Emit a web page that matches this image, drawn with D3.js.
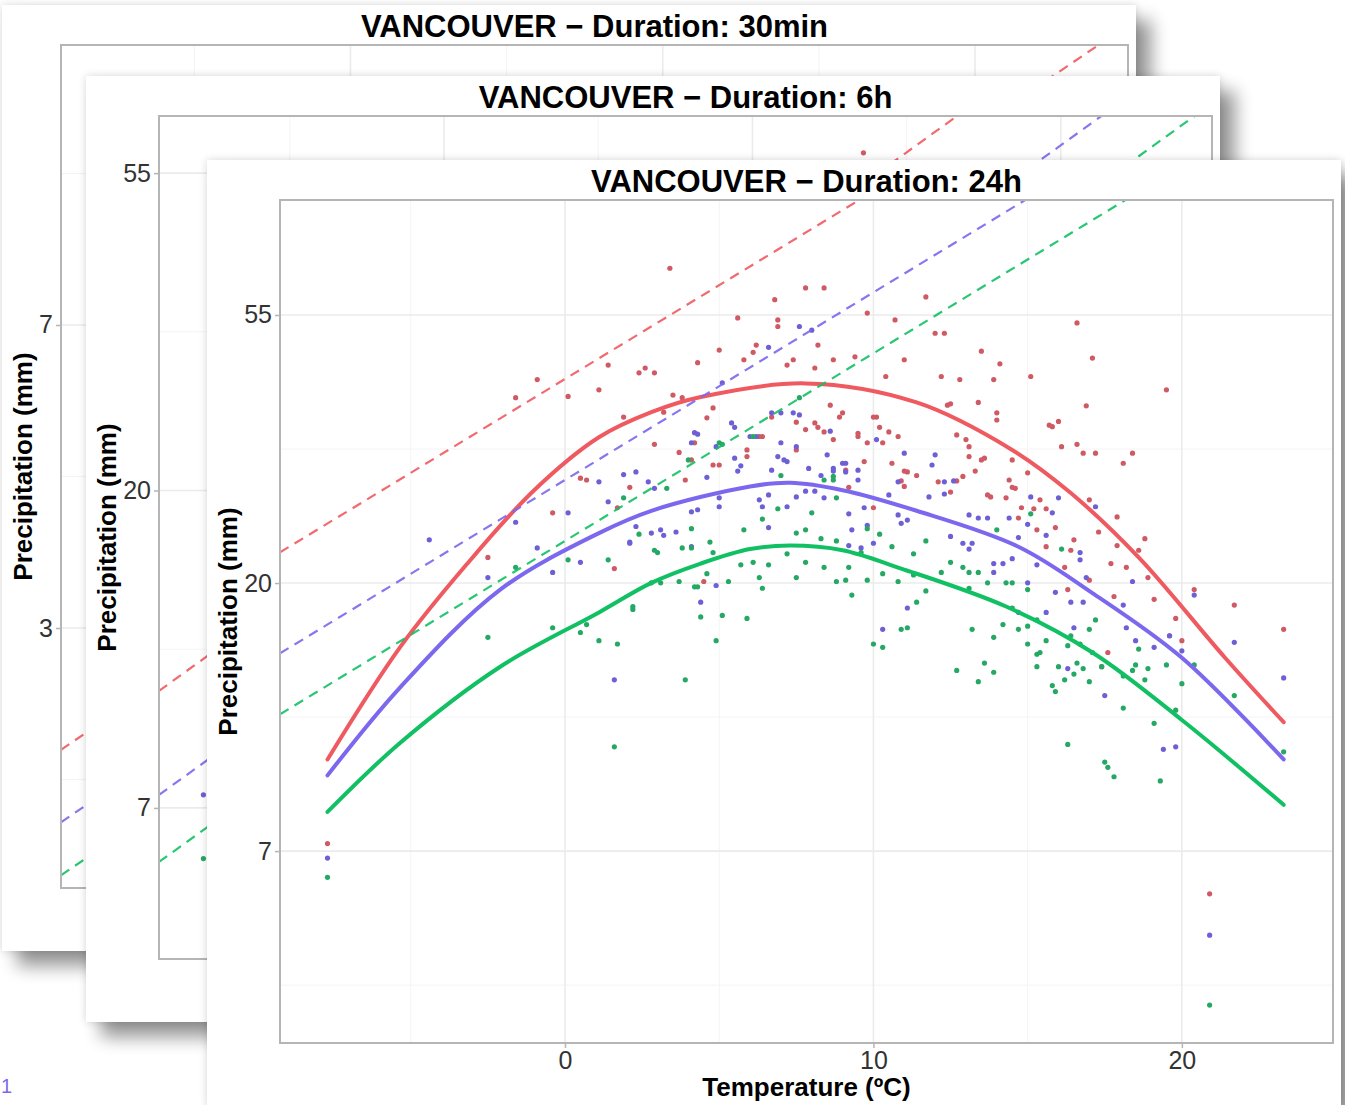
<!DOCTYPE html>
<html>
<head>
<meta charset="utf-8">
<script src="https://cdn.jsdelivr.net/npm/d3@7"></script>
<style>
  body { margin: 0; background: #fff; }
  svg { display: block; }
  text { font-family: "Liberation Sans", Arial, sans-serif; }
</style>
</head>
<body>
<div id="chart"></div>
<script>
// ---- data (temperature in degC, precipitation in mm) ----
var redPts = [[-7.7,7.6],[20.9,6.3],[23.3,16.9],[21.7,18.5],[20.4,19.6],[19.5,41.3],[17.1,46.5],[16.6,53.0],[3.4,65.0],[-1.6,40.1],[-0.9,42.9],[0.1,40.3],[1.1,41.3],[1.4,45.3],[2.4,44.0],[2.6,44.8],[2.9,44.0],[1.9,37.3],[2.9,33.7],[3.7,32.7],[3.5,40.5],[3.8,40.1],[4.3,45.7],[0.5,29.7],[0.7,29.5],[-0.4,26.1],[-2.5,22.1],[1.6,21.2],[1.7,26.6],[2.1,28.7],[3.9,29.5],[4.1,31.8],[4.8,31.2],[5.0,31.2],[4.6,37.2],[4.8,38.6],[4.5,20.2],[5.6,54.0],[6.9,53.6],[6.9,52.3],[6.2,48.8],[5.0,47.9],[6.1,47.5],[5.8,46.2],[7.4,46.2],[6.8,57.8],[7.8,60.4],[8.4,60.4],[9.8,55.0],[10.7,53.6],[11.7,58.4],[8.2,48.8],[8.7,46.2],[9.4,46.7],[11.0,46.2],[12.0,51.0],[12.3,51.0],[7.2,45.3],[8.1,44.8],[10.4,43.4],[12.2,43.4],[12.8,42.9],[13.9,42.9],[15.1,43.4],[13.5,47.7],[14.1,45.5],[12.4,39.0],[13.4,39.4],[14.0,37.9],[14.0,36.9],[12.7,34.9],[13.0,34.3],[15.8,36.0],[16.0,36.7],[16.6,33.7],[16.8,32.6],[17.2,32.6],[18.4,32.6],[18.1,31.4],[16.1,33.4],[14.5,31.8],[15.0,30.3],[14.5,28.7],[13.1,32.2],[13.6,32.0],[8.9,37.3],[10.1,37.3],[10.2,35.9],[9.5,34.7],[9.8,33.9],[8.2,35.9],[10.8,34.7],[6.7,37.3],[6.3,34.7],[4.2,33.9],[5.9,32.2],[3.2,38.0],[11.0,30.5],[11.4,30.0],[10.6,31.4],[12.1,29.3],[12.7,29.4],[13.3,30.5],[13.8,27.7],[12.5,28.2],[11.0,28.8],[6.4,34.7],[5.9,33.0],[7.5,33.0],[7.8,35.6],[7.5,36.6],[8.1,36.5],[8.6,39.0],[9.0,37.9],[8.4,35.3],[8.7,34.3],[9.5,35.1],[10.0,37.3],[10.5,35.3],[10.3,33.9],[9.7,31.6],[9.1,30.6],[11.1,30.4],[10.9,29.4],[10.0,26.6],[9.2,28.7],[12.5,39.2],[15.7,36.2],[16.9,38.9],[13.1,33.4],[13.5,31.8],[12.9,29.9],[14.4,29.5],[13.7,27.9],[14.3,27.6],[14.6,28.6],[15.4,27.4],[14.8,26.6],[15.2,26.5],[15.6,26.5],[14.7,25.6],[17.0,27.4],[17.9,25.7],[15.3,24.5],[15.6,23.0],[15.9,24.7],[16.5,23.6],[16.4,22.7],[16.2,21.3],[17.3,24.3],[17.9,23.1],[17.7,21.6],[18.2,21.3],[18.6,22.7],[18.8,23.7],[18.9,20.5],[17.0,20.3],[16.3,19.6],[17.8,19.1],[19.1,18.9],[19.8,17.6],[20.0,16.2],[17.6,15.5],[17.4,14.7],[19.6,16.5]];

var bluePts = [[-7.7,7.2],[20.9,5.4],[23.3,14.1],[21.7,16.1],[20.4,19.2],[-4.4,23.6],[-0.9,22.9],[-2.5,20.5],[-1.6,25.2],[-0.4,20.9],[0.1,26.1],[0.5,21.7],[1.6,14.0],[2.1,23.4],[4.3,26.4],[1.9,30.1],[2.3,30.4],[1.1,29.3],[2.7,29.3],[4.2,35.2],[1.4,27.2],[2.9,28.6],[4.1,33.9],[4.6,29.8],[4.9,33.4],[5.5,32.0],[5.6,30.5],[6.0,34.7],[6.7,37.9],[7.0,37.9],[7.6,37.6],[6.9,32.2],[7.2,31.6],[6.7,30.6],[7.0,33.9],[7.9,30.8],[8.5,32.4],[9.0,31.4],[9.1,30.4],[9.5,30.6],[9.5,29.5],[8.7,30.8],[8.3,30.0],[5.0,27.6],[5.0,26.7],[6.3,27.4],[6.6,27.9],[6.4,26.7],[7.2,26.7],[7.5,27.7],[7.8,28.3],[8.1,28.3],[8.4,27.6],[10.5,27.9],[9.7,26.6],[9.2,26.0],[10.8,25.9],[11.1,25.4],[10.9,25.1],[4.1,26.2],[3.6,24.3],[3.1,24.5],[3.2,24.0],[2.8,24.2],[2.3,24.8],[2.1,23.3],[4.1,23.0],[6.6,24.7],[9.8,24.9],[9.3,24.5],[10.0,23.3],[9.2,23.1],[9.6,22.9],[4.9,19.9],[4.4,18.7],[11.1,18.3],[10.3,16.9],[7.6,52.3],[8.0,51.6],[6.6,48.4],[7.4,37.9],[5.4,36.5],[5.5,35.9],[6.2,34.7],[8.6,35.4],[10.1,34.3],[11.0,32.6],[12.0,32.4],[4.3,35.0],[7.5,33.4],[7.1,31.8],[9.1,31.4],[8.7,30.5],[10.8,29.3],[5.7,31.1],[12.3,29.3],[11.9,31.2],[11.8,27.7],[12.6,29.4],[12.3,28.0],[13.1,25.9],[13.4,25.6],[13.7,25.6],[14.4,25.6],[15.1,27.7],[15.0,25.0],[15.6,24.0],[15.8,26.1],[16.0,27.6],[17.2,26.7],[12.5,23.9],[12.9,23.3],[13.2,23.3],[13.1,22.8],[14.7,23.8],[14.5,22.0],[13.9,21.6],[14.2,21.6],[13.9,20.9],[15.3,21.5],[16.7,22.5],[16.7,21.9],[16.9,20.5],[15.9,19.4],[16.4,18.7],[16.8,18.7],[15.0,20.1],[15.6,18.0],[14.7,18.0],[18.4,20.2],[18.1,18.5],[18.2,17.0],[18.5,16.2],[19.1,15.8],[19.6,16.5],[20.0,15.6],[17.5,13.2],[16.3,14.6],[16.5,17.0],[19.4,10.8],[19.8,10.9],[5.1,42.4]];

var greenPts = [[-7.7,6.7],[20.9,4.16],[23.3,10.7],[21.7,13.2],[20.4,14.8],[-2.5,16.4],[-1.6,21.3],[0.1,21.9],[-0.4,17.0],[0.5,16.7],[0.7,17.2],[1.1,16.2],[1.7,16.0],[1.6,10.9],[1.4,21.9],[2.2,18.4],[2.9,22.7],[3.1,20.1],[3.7,20.2],[4.1,22.9],[4.3,19.8],[3.9,14.0],[3.3,28.6],[1.9,27.6],[5.1,33.7],[7.0,30.0],[8.7,29.9],[8.8,27.6],[6.9,26.5],[8.0,26.1],[6.4,25.5],[4.1,24.6],[2.4,24.1],[5.8,24.5],[7.5,24.2],[7.8,24.5],[8.3,23.7],[8.8,23.5],[9.8,24.6],[10.2,24.1],[3.0,22.5],[3.8,22.9],[4.8,22.5],[4.7,23.4],[6.1,21.7],[6.6,21.5],[7.2,22.4],[7.8,21.7],[8.4,21.3],[9.2,21.3],[9.6,22.5],[10.6,23.0],[11.3,22.4],[5.7,21.5],[2.8,20.1],[4.6,20.8],[5.3,20.2],[6.3,20.5],[7.5,20.5],[8.8,20.2],[9.1,20.3],[9.8,20.3],[9.3,19.2],[10.3,20.8],[10.8,20.2],[11.3,20.7],[4.2,19.8],[6.4,19.7],[2.2,18.2],[4.4,17.7],[5.1,17.8],[5.9,17.6],[4.9,16.2],[10.0,16.0],[10.3,15.8],[10.9,16.9],[11.1,17.0],[11.4,18.7],[5.0,33.9],[4.0,31.8],[8.4,29.5],[8.7,29.5],[6.1,34.7],[7.6,40.1],[11.7,23.5],[11.7,19.5],[12.5,21.7],[12.9,21.3],[13.1,20.9],[13.4,20.9],[12.2,20.9],[13.1,19.7],[13.7,20.1],[14.3,20.1],[14.5,20.1],[14.0,24.5],[15.1,26.0],[16.1,22.8],[15.0,19.6],[14.5,18.3],[14.7,16.9],[15.3,17.5],[14.2,17.2],[13.2,16.9],[13.9,16.4],[15.0,16.0],[15.4,15.5],[15.6,16.2],[16.4,16.5],[16.7,16.0],[17.0,16.9],[17.2,17.5],[16.3,15.9],[12.7,14.5],[13.6,14.9],[13.9,14.4],[13.4,13.9],[15.3,14.7],[16.0,14.7],[16.6,14.9],[16.8,14.6],[16.5,14.3],[16.2,14.0],[15.8,13.7],[15.9,13.4],[17.0,13.9],[17.4,14.7],[18.1,14.2],[18.5,14.8],[18.9,14.6],[18.8,14.0],[19.5,14.8],[20.0,13.8],[18.6,15.7],[16.3,11.0],[17.5,10.3],[17.6,10.1],[17.8,9.75],[19.3,9.6],[19.1,11.9],[19.8,12.5],[18.1,12.6],[18.4,14.5],[17.1,15.5],[15.3,15.4],[15.0,17.1]];

// fitted curves (24h)
var redFit = [[-7.7,10.4],[-5.35,15.8],[-3.2,21.5],[-1.0,28.4],[1.1,34.6],[2.8,38.0],[4.4,40.2],[7.8,42.3],[11.4,39.4],[14.5,33.0],[16.4,28.1],[18.6,22.1],[21.4,15.2],[23.3,11.95]];
var blueFit = [[-7.7,9.8],[-5.35,13.6],[-2.1,19.6],[1.1,24.2],[2.8,26.3],[6.0,28.8],[7.3,29.2],[9.0,28.4],[11.4,26.3],[14.7,23.0],[17.1,19.35],[20.0,15.2],[23.3,10.4]];
var greenFit = [[-7.7,8.55],[-5.35,11.06],[-2.1,14.7],[1.1,18.0],[2.8,20.1],[4.4,21.6],[6.0,22.8],[7.3,23.1],[9.0,22.7],[10.9,21.2],[14.3,18.4],[17.1,15.5],[20.0,12.05],[23.3,8.78]];

// Clausius-Clapeyron reference lines: P = P0 * exp(ccRate * T)
var ccRate = 0.07;
var cc30min = [3.48, 2.74, 2.30];   // red, blue, green
var cc6h = [20.4, 14.7, 11.9];
var cc24h = [43.0, 29.5, 23.5];

// the few 6h points that peek out from behind the 24h panel
var red6h = [[13.6,58.2]];
var blue6h = [[-7.8,7.7]];
var green6h = [[-7.8,6.3]];

var titles = ["VANCOUVER \u2212 Duration: 30min", "VANCOUVER \u2212 Duration: 6h", "VANCOUVER \u2212 Duration: 24h"];
var xTicks = [0, 10, 20];
var xMinor = [-5, 5, 15];

var lineCols = ["#ef5a60", "#7b68ee", "#12c064"];
var dotCols = ["#cf5a63", "#6d60d6", "#26a865"];

var W = 1345, H = 1105;
var svg = d3.select("#chart").append("svg").attr("width", W).attr("height", H);

// drop shadow for the stacked cards
var defs = svg.append("defs");
var f = defs.append("filter").attr("id", "cardShadow")
  .attr("x", "-5%").attr("y", "-5%").attr("width", "115%").attr("height", "115%");
f.append("feGaussianBlur").attr("in", "SourceAlpha").attr("stdDeviation", 9).attr("result", "b1");
f.append("feOffset").attr("in", "b1").attr("dx", 15).attr("dy", 15).attr("result", "o1");
f.append("feComponentTransfer").attr("in", "o1").attr("result", "s1")
  .append("feFuncA").attr("type", "linear").attr("slope", 0.42);
f.append("feGaussianBlur").attr("in", "SourceAlpha").attr("stdDeviation", 4).attr("result", "b2");
f.append("feComponentTransfer").attr("in", "b2").attr("result", "s2")
  .append("feFuncA").attr("type", "linear").attr("slope", 0.16);
var mg = f.append("feMerge");
mg.append("feMergeNode").attr("in", "s1");
mg.append("feMergeNode").attr("in", "s2");
mg.append("feMergeNode").attr("in", "SourceGraphic");

var cardW = 1134, cardH = 946;

var panels = [
  {title: titles[0], x: 2, y: 5, left: 59, xDom: [-9.27, 24.9], yDom: [Math.exp(0.142), Math.exp(2.924)],
   yTicks: [Math.E, Math.exp(2)], yMinor: [Math.exp(0.5), Math.exp(1.5), Math.exp(2.5)],
   cc: cc30min, pts: [[], [], []], fits: null},
  {title: titles[1], x: 86, y: 76, left: 73, xDom: [-9.24, 24.9], yDom: [Math.exp(1.524), Math.exp(4.18)],
   yTicks: [Math.exp(2), Math.exp(3), Math.exp(4)], yMinor: [Math.exp(2.5), Math.exp(3.5)],
   cc: cc6h, pts: [red6h, blue6h, green6h], fits: null},
  {title: titles[2], x: 207, y: 160, left: 73, xDom: [-9.24, 24.9], yDom: [Math.exp(1.284), Math.exp(4.429)],
   yTicks: [Math.exp(2), Math.exp(3), Math.exp(4)], yMinor: [Math.exp(1.5), Math.exp(2.5), Math.exp(3.5)],
   cc: cc24h, pts: [redPts, bluePts, greenPts], fits: [redFit, blueFit, greenFit]}
];

panels.forEach(function(p, i) { drawPanel(p, i); });

function drawPanel(p, k) {
  var g = svg.append("g").attr("transform", "translate(" + p.x + "," + p.y + ")");
  g.append("rect").attr("width", cardW).attr("height", cardH)
    .attr("fill", "#fff").attr("filter", "url(#cardShadow)");

  var pl = p.left, pt = 40, pw = cardW - pl - 8, ph = cardH - pt - 63;
  var x = d3.scaleLinear().domain(p.xDom).range([0, pw]);
  var y = d3.scaleLog().domain(p.yDom).range([ph, 0]);

  var plot = g.append("g").attr("transform", "translate(" + pl + "," + pt + ")");
  defs.append("clipPath").attr("id", "clip" + k)
    .append("rect").attr("width", pw).attr("height", ph);

  // grid
  var grid = plot.append("g");
  grid.selectAll(".xm").data(xMinor).enter().append("line")
    .attr("x1", d => x(d)).attr("x2", d => x(d)).attr("y1", 0).attr("y2", ph)
    .attr("stroke", "#f4f4f4").attr("stroke-width", 1);
  grid.selectAll(".ym").data(p.yMinor).enter().append("line")
    .attr("y1", d => y(d)).attr("y2", d => y(d)).attr("x1", 0).attr("x2", pw)
    .attr("stroke", "#f4f4f4").attr("stroke-width", 1);
  grid.selectAll(".xg").data(xTicks).enter().append("line")
    .attr("x1", d => x(d)).attr("x2", d => x(d)).attr("y1", 0).attr("y2", ph)
    .attr("stroke", "#ebebeb").attr("stroke-width", 1.6);
  grid.selectAll(".yg").data(p.yTicks).enter().append("line")
    .attr("y1", d => y(d)).attr("y2", d => y(d)).attr("x1", 0).attr("x2", pw)
    .attr("stroke", "#ebebeb").attr("stroke-width", 1.6);

  var inner = plot.append("g").attr("clip-path", "url(#clip" + k + ")");

  // points
  p.pts.forEach(function(arr, c) {
    inner.append("g").selectAll("circle").data(arr).enter().append("circle")
      .attr("cx", d => x(d[0])).attr("cy", d => y(d[1])).attr("r", 2.6)
      .attr("fill", dotCols[c]);
  });

  // fitted curves
  if (p.fits) {
    var line = d3.line().x(d => x(d[0])).y(d => y(d[1])).curve(d3.curveCatmullRom.alpha(0.5));
    p.fits.forEach(function(arr, c) {
      inner.append("path").datum(arr).attr("d", line)
        .attr("fill", "none").attr("stroke", lineCols[c]).attr("stroke-width", 4)
        .attr("stroke-linecap", "round");
    });
  }

  // scaling lines
  p.cc.forEach(function(p0, c) {
    var t0 = p.xDom[0], t1 = p.xDom[1];
    inner.append("line")
      .attr("x1", x(t0)).attr("y1", y(p0 * Math.exp(ccRate * t0)))
      .attr("x2", x(t1)).attr("y2", y(p0 * Math.exp(ccRate * t1)))
      .attr("stroke", lineCols[c]).attr("stroke-width", 2.2)
      .attr("stroke-dasharray", "10,7").attr("opacity", 0.9);
  });

  // border
  plot.append("rect").attr("width", pw).attr("height", ph)
    .attr("fill", "none").attr("stroke", "#b5b5b5").attr("stroke-width", 2);

  // axes
  var yAxis = plot.append("g")
    .call(d3.axisLeft(y).tickValues(p.yTicks).tickFormat(d => Math.round(d)).tickSize(5).tickPadding(3));
  var xAxis = plot.append("g").attr("transform", "translate(0," + ph + ")")
    .call(d3.axisBottom(x).tickValues(xTicks).tickFormat(d3.format("d")).tickSize(5).tickPadding(3));
  [yAxis, xAxis].forEach(function(a) {
    a.select(".domain").remove();
    a.selectAll(".tick line").attr("stroke", "#b5b5b5").attr("stroke-width", 1.5);
    a.selectAll(".tick text").attr("fill", "#333").style("font-size", "25px")
      .style("font-family", "'Liberation Sans', Arial, sans-serif");
  });

  // titles
  g.append("text").attr("x", pl + pw / 2).attr("y", 32).attr("text-anchor", "middle")
    .style("font-size", "31px").style("font-weight", "bold").attr("fill", "#000")
    .text(p.title);
  g.append("text").attr("transform", "translate(30," + (pt + ph / 2) + ") rotate(-90)")
    .attr("text-anchor", "middle").style("font-size", "26px").style("font-weight", "bold")
    .attr("fill", "#000").text("Precipitation (mm)");
  g.append("text").attr("x", pl + pw / 2).attr("y", pt + ph + 53).attr("text-anchor", "middle")
    .style("font-size", "26px").style("font-weight", "bold").attr("fill", "#000")
    .text("Temperature (\u00baC)");
}

// stray glyph at the bottom-left corner of the collage
svg.append("text").attr("x", 1).attr("y", 1093).style("font-size", "20px")
  .attr("fill", "#7b68ee").text("1");
</script>
</body>
</html>
